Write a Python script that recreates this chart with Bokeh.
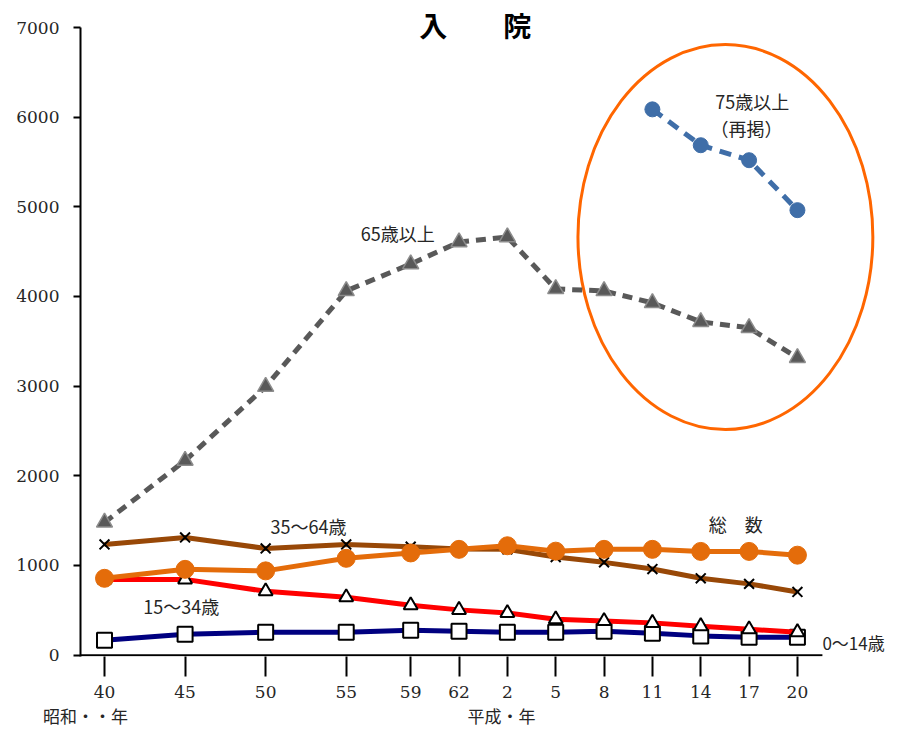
from bokeh.plotting import figure
from bokeh.models import FixedTicker, Label, Range1d, LinearAxis
from bokeh.embed import file_html
from bokeh.resources import INLINE

# ---- data ----
years = [1965, 1970, 1975, 1980, 1984, 1987, 1990, 1993, 1996, 1999, 2002, 2005, 2008]
tick_labels = ["40", "45", "50", "55", "59", "62", "2", "5", "8", "11", "14", "17", "20"]
total = [857, 957, 940, 1080, 1140, 1180, 1220, 1160, 1180, 1180, 1157, 1157, 1115]
age_0_14 = [167, 234, 256, 256, 278, 267, 256, 256, 267, 245, 215, 200, 200]
age_15_34 = [845, 845, 712, 645, 556, 505, 470, 400, 380, 360, 323, 289, 256]
age_35_64 = [1235, 1313, 1190, 1235, 1210, 1185, 1180, 1095, 1035, 960, 857, 795, 705]
age_65_over = [1480, 2170, 2994, 4062, 4362, 4607, 4663, 4084, 4062, 3928, 3717, 3650, 3316]
years_75 = [1999, 2002, 2005, 2008]
age_75_over = [6087, 5687, 5520, 4963]
y_ticks = [0, 1000, 2000, 3000, 4000, 5000, 6000, 7000]
era_labels = {1963.82: "昭和・・年", 1989.63: "平成・年"}
title_text = "入　　院"

JP = "Noto Sans CJK JP"
NUM = "DejaVu Serif"
TXT = "#262626"

X_START, X_END = 1963.51, 2014.21
X_AXIS_END = 2009.55

p = figure(width=897, height=732, output_backend="svg", toolbar_location=None,
           x_range=Range1d(X_START, X_END), y_range=Range1d(-15, 7000),
           min_border_left=80, min_border_right=0, min_border_top=27, min_border_bottom=76)
p.outline_line_color = None
p.xgrid.visible = False
p.ygrid.visible = False
p.background_fill_color = "white"

# x axis (ticks & labels)
p.xaxis.ticker = FixedTicker(ticks=years)
p.xaxis.major_label_overrides = {y: l for y, l in zip(years, tick_labels)}
p.xaxis.major_tick_out = 20
p.xaxis.major_tick_in = 0
p.xaxis.minor_tick_out = 0
p.xaxis.minor_tick_in = 0
p.xaxis.axis_line_color = None
p.xaxis.major_tick_line_width = 2
p.xaxis.major_label_text_font = NUM
p.xaxis.major_label_text_font_size = "17px"
p.xaxis.major_label_text_color = TXT
p.xaxis.major_label_standoff = 9

# era labels row under the x axis
era_axis = LinearAxis(ticker=FixedTicker(ticks=list(era_labels.keys())),
                      major_label_overrides=era_labels,
                      axis_line_color=None, major_tick_line_color=None,
                      minor_tick_line_color=None, major_tick_out=0, major_tick_in=0,
                      major_label_text_font=JP, major_label_text_font_size="17px",
                      major_label_text_color=TXT, major_label_standoff=2)
p.add_layout(era_axis, "below")

# title as a label row above the frame
title_axis = LinearAxis(ticker=FixedTicker(ticks=[1988.0]),
                        major_label_overrides={1988.0: title_text},
                        axis_line_color=None, major_tick_line_color=None,
                        minor_tick_line_color=None, major_tick_out=0, major_tick_in=0,
                        major_label_text_font=JP, major_label_text_font_size="28px",
                        major_label_text_font_style="bold",
                        major_label_text_color="black", major_label_standoff=-17)
p.add_layout(title_axis, "above")

# y axis
p.yaxis.ticker = FixedTicker(ticks=y_ticks)
p.yaxis.major_tick_out = 7
p.yaxis.major_tick_in = 0
p.yaxis.minor_tick_out = 0
p.yaxis.minor_tick_in = 0
p.yaxis.axis_line_width = 2
p.yaxis.major_tick_line_width = 2
p.yaxis.major_label_text_font = NUM
p.yaxis.major_label_text_font_size = "17px"
p.yaxis.major_label_text_color = TXT
p.yaxis.major_label_standoff = 14

# x axis line (ends at the last category region like the reference)
p.segment(x0=[X_START], y0=[0], x1=[X_AXIS_END], y1=[0], line_color="black", line_width=2)

# highlight ellipse
p.ellipse(x=2003.53, y=4663, width=18.3, height=4296, fill_color=None,
          line_color="#FF6600", line_width=3)

# 0-14
p.line(years, age_0_14, line_color="#000080", line_width=5)
p.scatter(years, age_0_14, marker="square", size=15, fill_color="white",
          line_color="black", line_width=2)
# 15-34
p.line(years, age_15_34, line_color="#FF0000", line_width=5)
p.scatter(years, age_15_34, marker="triangle", size=14, fill_color="white",
          line_color="black", line_width=2)
# 35-64
p.line(years, age_35_64, line_color="#984807", line_width=5)
p.scatter(years, age_35_64, marker="x", size=14, line_color="black", line_width=2)
# total
p.line(years, total, line_color="#E46C0A", line_width=5)
p.scatter(years, total, marker="circle", size=18, fill_color="#E46C0A",
          line_color="#E46C0A")
# 65+
p.line(years, age_65_over, line_color="#595959", line_width=5, line_dash="10 7")
p.scatter(years, age_65_over, marker="triangle", size=16, fill_color="#595959",
          line_color="#8C8C8C", line_width=1.5)
# 75+
p.line(years_75, age_75_over, line_color="#3F6EA8", line_width=5, line_dash="12 8")
p.scatter(years_75, age_75_over, marker="circle", size=15, fill_color="#3F6EA8",
          line_color="#3F6EA8")

def lab(x, y, t, size="18px", align="left"):
    p.add_layout(Label(x=x, y=y, text=t, text_font=JP, text_font_size=size,
                       text_color=TXT, text_align=align, text_baseline="middle"))

lab(1980.9, 4707, "65歳以上")
lab(2002.9, 6176, "75歳以上")
lab(2002.6, 5876, "（再掲）")
lab(1975.3, 1436, "35～64歳")
lab(1967.4, 545, "15～34歳")
lab(2002.5, 1458, "総　数")
lab(2009.55, 145, "0～14歳", size="17px")

open("out.html", "w").write(file_html(p, INLINE))
